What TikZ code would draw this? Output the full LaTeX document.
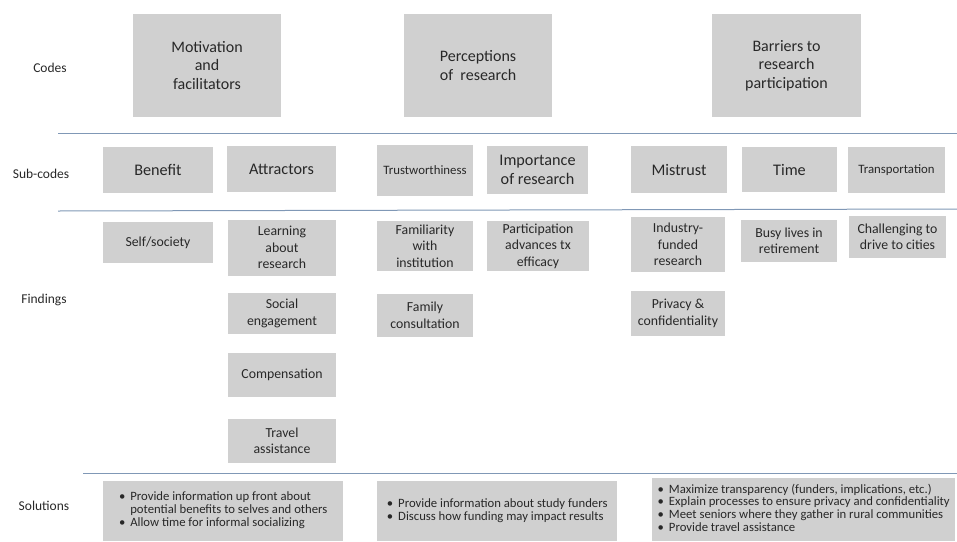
\documentclass[tikz,border=0pt]{standalone}
\usepackage{fontspec}
\setmainfont{Carlito}
\usetikzlibrary{positioning}
\definecolor{boxgray}{RGB}{208,208,208}
\definecolor{inkgray}{RGB}{40,40,40}
\definecolor{rulecol}{RGB}{128,152,182}
\tikzset{
  wh/.style 2 args={minimum width=#1pt,minimum height=#2pt},
  cbox/.style={fill=boxgray,inner sep=2pt,align=center,text=inkgray},
  code/.style={cbox,font=\fontsize{16}{18.5}\selectfont},
  subcode/.style={cbox,font=\fontsize{16.2}{18.3}\selectfont},
  tinycode/.style={cbox,font=\fontsize{12.8}{14}\selectfont},
  finding/.style={cbox,font=\fontsize{13.8}{16.5}\selectfont},
  solution/.style={cbox,font=\fontsize{12.7}{12.9}\selectfont,align=left,anchor=north west},
  rowlabel/.style={text=inkgray,font=\fontsize{13.5}{16}\selectfont},
  sep/.style={rulecol,line width=1pt}
}
\newcommand*{\bul}{\textbullet}

\begin{document}
\begin{tikzpicture}[x=1pt,y=-1pt]
\useasboundingbox (0,0) rectangle (957,541);

% row labels
\node[rowlabel] (lcodes) at (50,68) {Codes};
\node[rowlabel] (lsub) at (41,174) {Sub-codes};
\node[rowlabel] (lfind) at (44,300) {Findings};
\node[rowlabel] (lsol) at (44,506) {Solutions};

% separators
\coordinate (s1a) at (58,133);  \coordinate (s1b) at (957,133);
\coordinate (s2a) at (58,211);  \coordinate (s2b) at (957,209);
\coordinate (s3a) at (83,473);  \coordinate (s3b) at (957,473);
\draw[sep] (s1a) -- (s1b);
\draw[sep] (s2a) -- (s2b);
\draw[sep] (s3a) -- (s3b);

% codes
\node[code,wh={148}{103}] (motiv) at (207,65.5) {Motivation\\and\\facilitators};
\node[code,wh={148}{103}] (percep) at (478,65.5) {Perceptions\\of\ \ research};
\node[code,wh={149}{103}] (barrier) at (786.5,65.5) {Barriers to\\research\\participation};

% sub-codes
\node[subcode,wh={110}{46}] (benefit) at (158,170) {Benefit};
\node[subcode,wh={109}{46}] (attract) at (281.5,169) {Attractors};
\node[tinycode,wh={96}{51}] (trust) at (425,170.5) {Trustworthiness};
\node[subcode,wh={101}{48}] (import) at (537.5,170) {Importance\\of research};
\node[subcode,wh={96}{47}] (mistrust) at (679,169.5) {Mistrust};
\node[subcode,wh={95}{45}] (time) at (789.5,169.5) {Time};
\node[tinycode,wh={97}{46}] (transp) at (896.5,170) {Transportation};

% findings
\node[finding,wh={110}{41}] (self) at (158,242.5) {Self/society};
\node[finding,wh={108}{56}] (learn) at (282,247.5) {Learning\\about\\research};
\node[finding,wh={108}{41}] (social) at (282,313.5) {Social\\engagement};
\node[finding,wh={108}{44}] (comp) at (282,375) {Compensation};
\node[finding,wh={108}{44}] (travel) at (282,441) {Travel\\assistance};
\node[finding,wh={96}{50}] (famil) at (425,246) {Familiarity\\with\\institution};
\node[finding,wh={96}{43}] (family) at (425,315.5) {Family\\consultation};
\node[finding,wh={102}{50}] (partic) at (538,246) {Participation\\advances tx\\efficacy};
\node[finding,wh={94}{55}] (industry) at (678,244.5) {Industry-\\funded\\research};
\node[finding,wh={94}{45}] (privacy) at (678,313.5) {Privacy \&\\confidentiality};
\node[finding,wh={96}{42}] (busy) at (789,241) {Busy lives in\\retirement};
\node[finding,wh={97}{42}] (drive) at (897.5,237) {Challenging to\\drive to cities};

% solutions
\node[solution,wh={240}{60}] (sol1) at (103,481) {%
  \begin{tabular}{@{}l@{\hspace{5pt}}l@{}}
  \bul & Provide information up front about\\
       & potential benefits to selves and others\\
  \bul & Allow time for informal socializing
  \end{tabular}};
\node[solution,wh={240}{60}] (sol2) at (377,481) {%
  \begin{tabular}{@{}l@{\hspace{5pt}}l@{}}
  \bul & Provide information about study funders\\
  \bul & Discuss how funding may impact results
  \end{tabular}};
\node[solution,wh={303}{63}] (sol3) at (652,478) {%
  \begin{tabular}{@{}l@{\hspace{5pt}}l@{}}
  \bul & Maximize transparency (funders, implications, etc.)\\
  \bul & Explain processes to ensure privacy and confidentiality\\
  \bul & Meet seniors where they gather in rural communities\\
  \bul & Provide travel assistance
  \end{tabular}};
\end{tikzpicture}
\end{document}
